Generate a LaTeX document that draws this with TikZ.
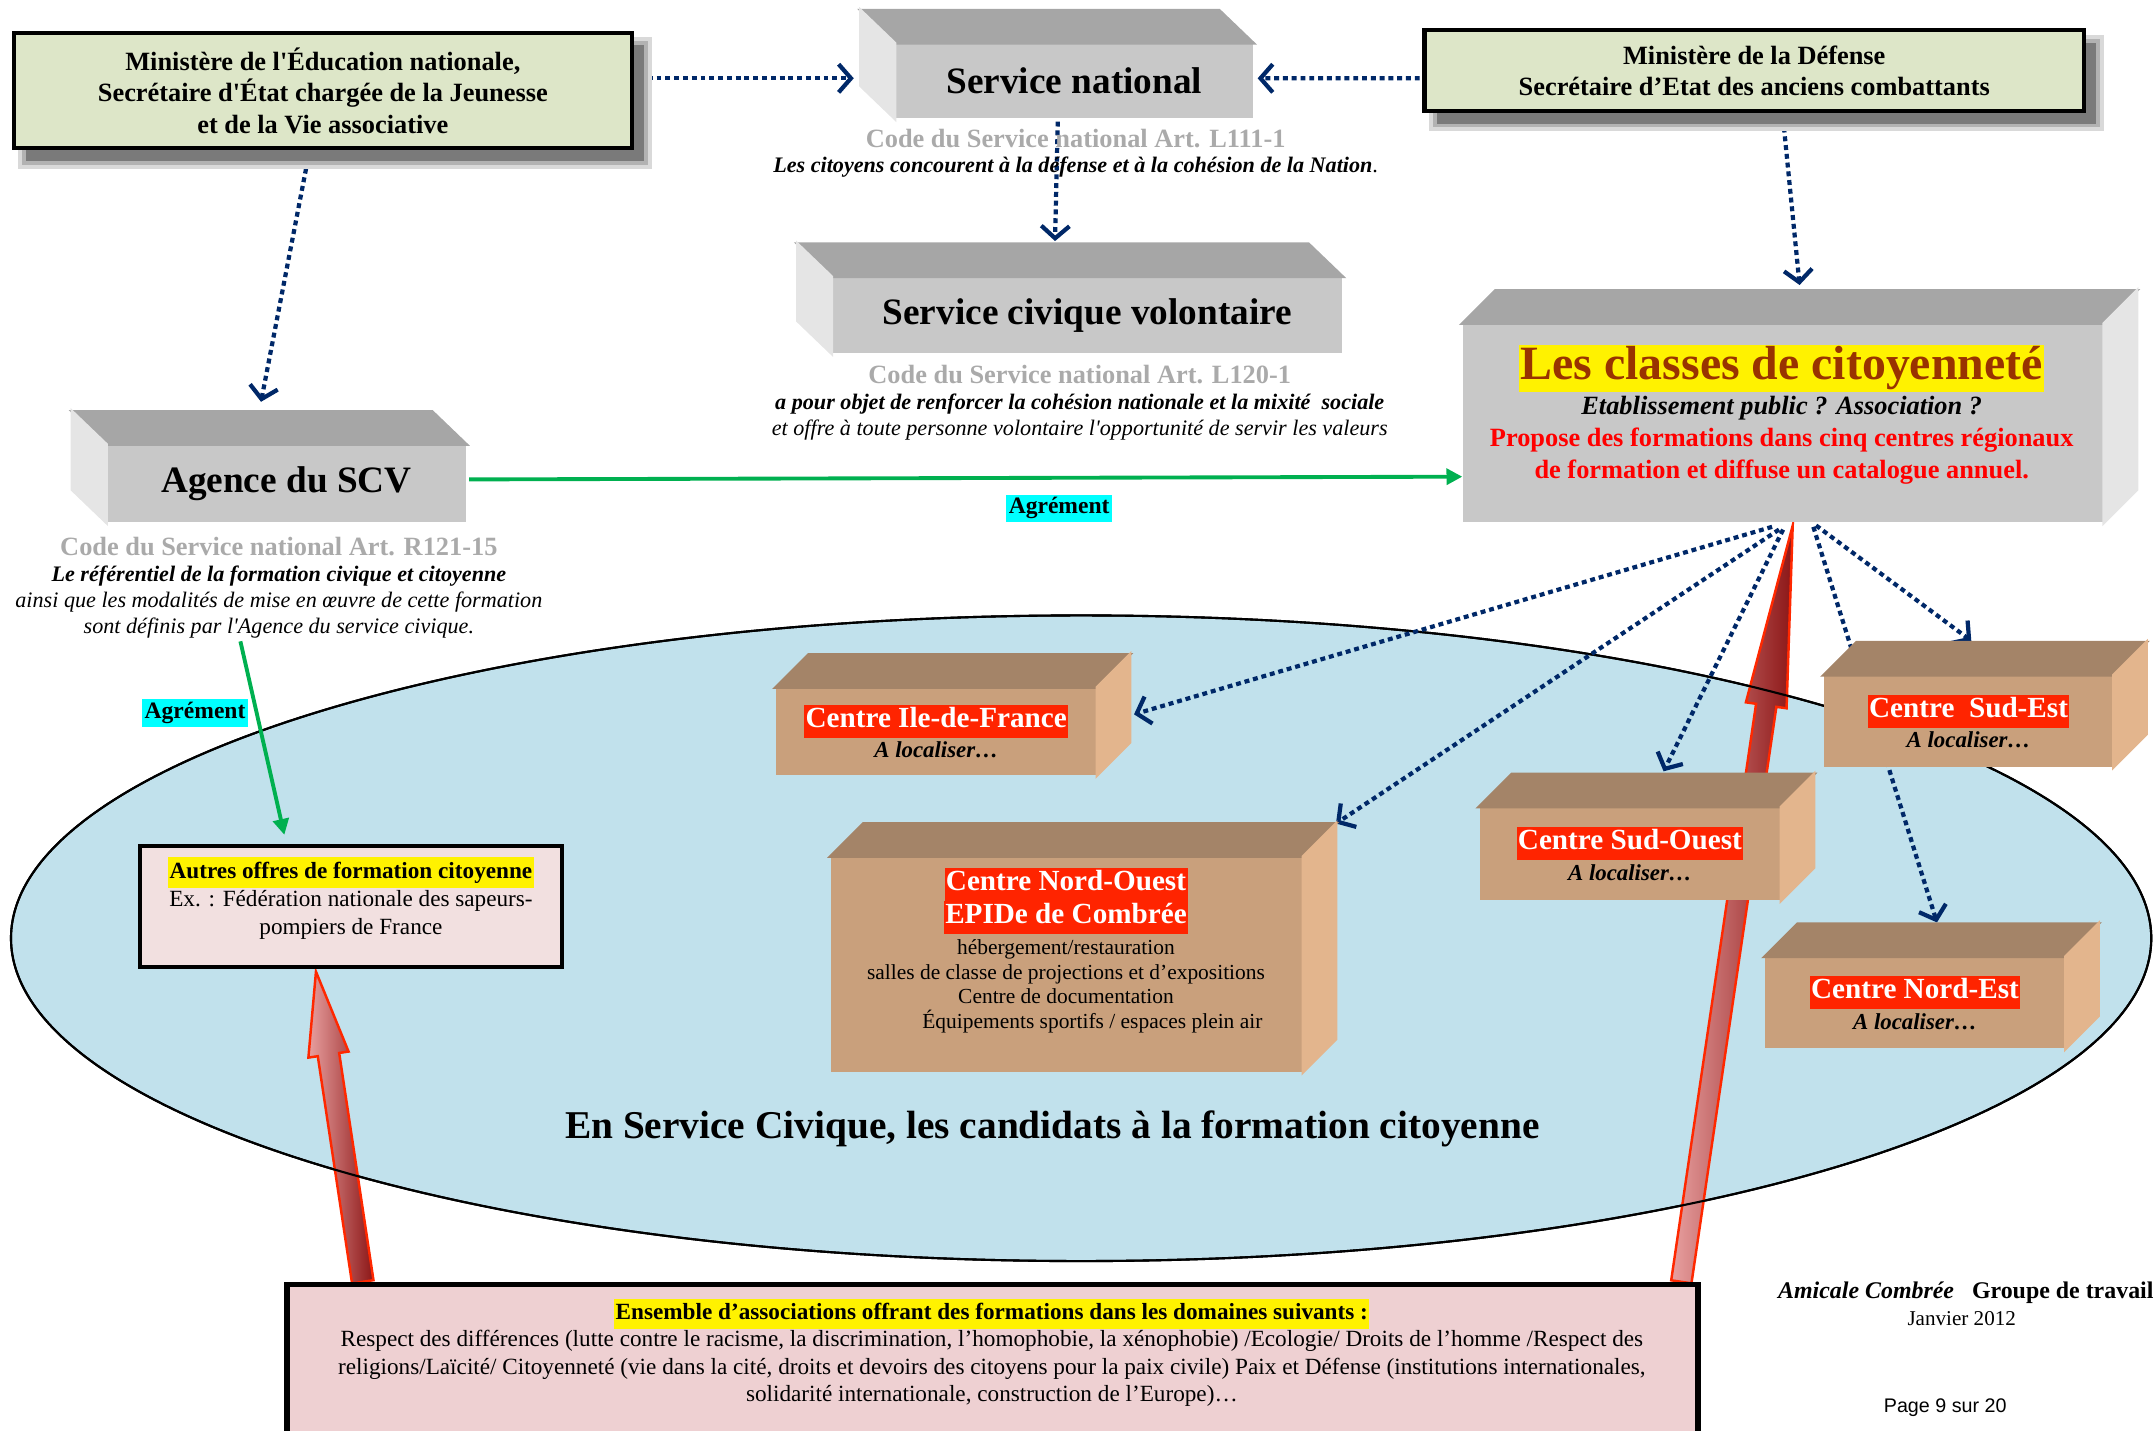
\documentclass[tikz,border=0pt]{standalone}
\usepackage{fontspec}
\setmainfont{Liberation Serif}
\setsansfont{Liberation Sans}
\usetikzlibrary{arrows.meta,calc,shapes.geometric,shadows,positioning}

\definecolor{navy}{RGB}{0,40,104}
\definecolor{agrgreen}{RGB}{0,176,80}
\definecolor{agrcyan}{RGB}{0,255,255}
\definecolor{menfill}{RGB}{221,230,200}
\definecolor{grayfront}{RGB}{200,200,200}
\definecolor{graytop}{RGB}{166,166,166}
\definecolor{grayside}{RGB}{229,229,229}
\definecolor{tanfront}{RGB}{201,160,124}
\definecolor{tantop}{RGB}{164,132,104}
\definecolor{tanside}{RGB}{227,181,141}
\definecolor{zoneblue}{RGB}{193,225,236}
\definecolor{codegray}{RGB}{170,170,170}
\definecolor{titlered}{RGB}{255,36,0}
\definecolor{titlebrown}{RGB}{153,51,0}
\definecolor{autresfill}{RGB}{242,224,224}
\definecolor{ensfill}{RGB}{238,208,210}
\definecolor{arrowred}{RGB}{255,40,0}
\definecolor{arrowpink}{RGB}{232,160,160}
\definecolor{arrowdark}{RGB}{140,22,22}

\pgfdeclarelayer{links}
\pgfsetlayers{links,main}

\def\un{0.013737cm}
\newcommand\fs[2]{\fontsize{#1}{#2}\selectfont}
\newcommand\sq{\textquotesingle}
\setlength{\fboxsep}{0.4pt}
\newcommand\ctitle[1]{\colorbox{titlered}{\fs{8.3}{8.6}\upshape\bfseries\color{white}\strut#1}}
\newcommand\hilite[1]{\colorbox{yellow}{\strut#1}}

% faces of the blocks, depth to the upper left / upper right
\newcommand\facesL[2]{%
  \filldraw[#2top, line width=0.8pt] (#1.north west) -- ++(-25,-24) -- ($(#1.north east)+(-25,-24)$) -- (#1.north east) -- cycle;
  \filldraw[#2side, line width=0.8pt] (#1.north west) -- ++(-25,-24) -- ($(#1.south west)+(-25,-24)$) -- (#1.south west) -- cycle;}
\newcommand\facesR[2]{%
  \filldraw[#2top, line width=0.8pt] (#1.north west) -- ++(24,-24) -- ($(#1.north east)+(24,-24)$) -- (#1.north east) -- cycle;
  \filldraw[#2side, line width=0.8pt] (#1.north east) -- ++(24,-24) -- ($(#1.south east)+(24,-24)$) -- (#1.south east) -- cycle;}

\tikzset{
  sz/.style 2 args={minimum width=#1*\un, minimum height=#2*\un},
  softshadow/.style={
    general shadow={fill=black!15, draw=black!15, line width=4.5pt, shadow xshift=3.5pt, shadow yshift=-3.5pt},
    general shadow={fill=black!40, draw=black!30, line width=2.2pt, shadow xshift=3.5pt, shadow yshift=-3.5pt},
    general shadow={fill=black!52, draw=none, shadow xshift=3.5pt, shadow yshift=-3.5pt}},
  greenbox/.style={softshadow, draw, line width=1.2pt, fill=menfill, inner sep=0pt, align=center,
    font=\fs{7.5}{9}\bfseries},
  graybox/.style={fill=grayfront, inner sep=0pt, font=\fs{10.6}{12}\bfseries},
  tanbox/.style={fill=tanfront, inner sep=0pt, align=center, font=\fs{6.5}{8.6}\bfseries\itshape},
  codeline/.style={text=codegray, inner sep=0pt, font=\fs{7.5}{9}\bfseries},
  note/.style={align=center, inner sep=0pt, font=\fs{6.3}{7.4}\itshape},
  agr/.style={fill=agrcyan, inner sep=0.8pt, font=\fs{6.7}{8}\bfseries},
  dotlink/.style={draw=navy, line width=1.2pt, dash pattern=on 1.4pt off 1.1pt,
    -{Straight Barb[length=3.5pt,width=8pt]}},
  agrlink/.style={draw=agrgreen, line width=1.1pt, -{Triangle[length=4.5pt,width=4.5pt]}},
  bigarrow/.style={left color=arrowpink, right color=arrowdark, draw=arrowred, line width=0.7pt}
}

\begin{document}
\begin{tikzpicture}[x=\un,y=-\un]
\useasboundingbox (0,0) rectangle (1568,1041);

\begin{pgfonlayer}{links}
\node[ellipse, draw, line width=0.6pt, fill=zoneblue, sz={1558}{470}, inner sep=0pt] (zone) at (787,683) {};
\end{pgfonlayer}
\node[font=\fs{11.2}{13}\bfseries] (zone-txt) at (766,822) {En Service Civique, les candidats à la formation citoyenne};

% ministries
\node[greenbox, sz={450}{84}] (men) at (235,66) {Ministère de l\sq Éducation nationale,\\Secrétaire d\sq État chargée de la Jeunesse\\et de la Vie associative};
\node[greenbox, sz={480}{59}] (def) at (1277,51.5) {Ministère de la Défense\\Secrétaire d’Etat des anciens combattants};

% grey blocks
\node[graybox, sz={260}{54}] (natl) at (782,59) {Service national};
\facesL{natl}{gray}
\node[codeline] (natl-code) at (783,101) {Code du Service national Art. L111-1};
\node[note, font=\fs{6.3}{7.4}\bfseries\itshape] (natl-txt) at (783,122) {Les citoyens concourent à la défense et à la cohésion de la Nation{\normalfont .}};

\node[graybox, sz={371}{55}] (scv) at (791.5,229.5) {Service civique volontaire};
\facesL{scv}{gray}
\node[codeline] (scv-code) at (786,273) {Code du Service national Art. L120-1};
\node[note] (scv-txt) at (786,303.5) {{\bfseries a pour objet de renforcer la cohésion nationale et la mixité\ \ sociale}\\et offre à toute personne volontaire l\sq opportunité de servir les valeurs};

\node[graybox, sz={261}{56}] (agence) at (208.5,352) {Agence du SCV};
\facesL{agence}{gray}
\node[codeline] (ag-code) at (203,398) {Code du Service national Art. R121-15};
\node[note] (ag-txt) at (203,438) {{\bfseries Le référentiel de la formation civique et citoyenne}\\ainsi que les modalités de mise en œuvre de cette formation\\sont définis par l\sq Agence du service civique.};

\node[graybox, sz={466}{144}] (classes) at (1298,308) {};
\facesR{classes}{gray}
\node[fill=yellow, inner sep=0.5pt, text=titlebrown, font=\fs{13.6}{15}\bfseries] (classes-title) at (1297,268) {Les classes de citoyenneté};
\node[inner sep=0pt, font=\fs{7.5}{9}\bfseries\itshape] (classes-sub) at (1297,297) {Etablissement public ? Association ?};
\node[align=center, inner sep=0pt, text=red, font=\fs{7.5}{9}\bfseries] (classes-txt) at (1297,332) {Propose des formations dans cinq centres régionaux\\de formation et diffuse un catalogue annuel.};

% regional centres
\node[tanbox, sz={233}{63}] (idf) at (681.5,532.5) {\ctitle{Centre Ile-de-France}\\A localiser…};
\facesR{idf}{tan}
\node[tanbox, sz={343}{156}] (no) at (776.5,702) {};
\facesR{no}{tan}
\node[align=center, inner sep=0pt, font=\fs{8.3}{9.4}] (no-title) at (776,656) {\ctitle{Centre Nord-Ouest}\\\ctitle{EPIDe de Combrée}};
\node[align=center, inner sep=0pt, font=\fs{6.1}{7}] (no-txt) at (776,718) {hébergement/restauration\\salles de classe de projections et d’expositions\\Centre de documentation\\\hspace*{15pt}Équipements sportifs / espaces plein air};
\node[tanbox, sz={210}{66}] (se) at (1433,525) {\ctitle{Centre\ \ Sud-Est}\\A localiser…};
\facesR{se}{tan}
\node[tanbox, sz={219}{67}] (so) at (1186.5,621.5) {\ctitle{Centre Sud-Ouest}\\A localiser…};
\facesR{so}{tan}
\node[tanbox, sz={218}{66}] (ne) at (1394,730) {\ctitle{Centre Nord-Est}\\A localiser…};
\facesR{ne}{tan}

\node[draw, line width=1pt, fill=autresfill, sz={307}{88}, inner sep=0pt] (autres) at (255.5,660) {};
\node[align=center, inner sep=0pt, font=\fs{6.6}{8}] (autres-txt) at (255.5,654) {\hilite{\bfseries Autres offres de formation citoyenne}\\Ex. : Fédération nationale des sapeurs-\\pompiers de France};

\node[draw, line width=1.5pt, fill=ensfill, sz={1027}{130}, inner sep=0pt] (ens) at (722.5,1000) {};
\node[align=center, inner sep=0pt, font=\fs{6.6}{7.8}, anchor=north] (ens-txt) at (722,945) {\hilite{\bfseries Ensemble d’associations offrant des formations dans les domaines suivants :}\\Respect des différences (lutte contre le racisme, la discrimination, l’homophobie, la xénophobie) /Ecologie/ Droits de l’homme /Respect des\\religions/Laïcité/ Citoyenneté (vie dans la cité, droits et devoirs des citoyens pour la paix civile) Paix et Défense (institutions internationales,\\solidarité internationale, construction de l’Europe)…};

\node[agr] (agr1) at (771,370) {Agrément};
\node[agr] (agr2) at (142,519) {Agrément};

\node[font=\fs{6.8}{8}\bfseries] (foot) at (1431,941) {\textit{Amicale Combrée}\ \ \ Groupe de travail};
\node[font=\fs{6}{7}] (foot-date) at (1428,960) {Janvier 2012};
\node[font=\fs{5.6}{7}\sffamily] (foot-page) at (1416,1025) {Page 9 sur 20};

\begin{pgfonlayer}{links}
% big arrows from the associations
\coordinate (la-tip) at ($(autres.south)+(-25.5,2)$);
\coordinate (la-base) at ($(ens.north west)+(57,0)$);
\coordinate (la-head) at ($(la-tip)!0.2675!(la-base)$);
\shade[bigarrow] (la-tip) -- ($(la-head)!0.242!90:(la-tip)$) -- ($(la-head)!0.129!90:(la-tip)$)
  -- ($(la-base)!0.0345!90:(la-tip)$) -- ($(la-base)!0.0345!-90:(la-tip)$)
  -- ($(la-head)!0.129!-90:(la-tip)$) -- ($(la-head)!0.242!-90:(la-tip)$) -- cycle;
\coordinate (ra-tip) at ($(classes.south)+(7,2)$);
\coordinate (ra-base) at ($(ens.north east)+(-14,0)$);
\coordinate (ra-head) at ($(ra-tip)!0.2378!(ra-base)$);
\shade[bigarrow] (ra-tip) -- ($(ra-head)!0.113!90:(ra-tip)$) -- ($(ra-head)!0.0564!90:(ra-tip)$)
  -- ($(ra-base)!0.0134!90:(ra-tip)$) -- ($(ra-base)!0.0134!-90:(ra-tip)$)
  -- ($(ra-head)!0.0564!-90:(ra-tip)$) -- ($(ra-head)!0.113!-90:(ra-tip)$) -- cycle;
\draw[line width=0.6pt] (zone.center) ellipse [x radius=779, y radius=235];

\draw[dotlink] ($(men.east)+(10,-9)$) -- ($(natl.west)+(-30,-2)$);
\draw[dotlink] ($(def.west)+(-2,5.5)$) -- ($(natl.east)+(3,-2)$);
\draw[dotlink] ($(natl.south)+(-12,2)$) -- ($(scv.north)+(-23.5,-26)$);
\draw[dotlink] ($(men.south)+(-11,7)$) -- ($(agence.north)+(-18.5,-31)$);
\draw[dotlink] ($(def.south)+(21,4)$) -- ($(classes.north)+(12,-28)$);
\draw[dotlink] ($(classes.south)+(-8,3)$) -- ($(idf.east)+(27,-12.5)$);
\draw[dotlink] ($(classes.south)+(-3,5)$) -- ($(no.north east)+(24,-24)$);
\draw[dotlink] ($(classes.south)+(0,5)$) -- ($(so.north)+(24.5,-26)$);
\draw[dotlink] ($(classes.south)+(24,2)$) -- ($(se.north)+(2,-25)$);
\draw[dotlink] ($(classes.south)+(22,3)$) -- ($(ne.north)+(16,-25)$);

\draw[agrlink] ($(agence.east)+(2,-3)$) -- ($(classes.west)+(0,39)$);
\draw[agrlink] ($(ag-txt.south)+(-28,2)$) -- ($(autres.north)+(-48.5,-7)$);
\end{pgfonlayer}
\end{tikzpicture}
\end{document}
